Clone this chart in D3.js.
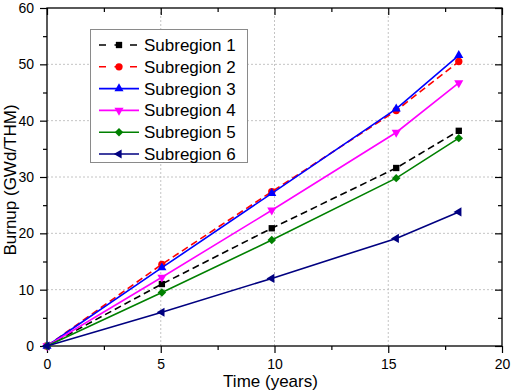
<!DOCTYPE html>
<html>
<head>
<meta charset="utf-8">
<script src="https://cdn.jsdelivr.net/npm/d3@7"></script>
<style>
  body { margin: 0; background: #fff; }
  svg { display: block; font-family: "Liberation Sans", Arial, sans-serif; }
</style>
</head>
<body>
<div id="chart"></div>
<script>
// data
const times = [0, 5.05, 9.88, 15.35, 18.1];
const sub1 = [0, 11.0, 20.9, 31.6, 38.2];
const sub2 = [0, 14.5, 27.4, 41.8, 50.5];
const sub3 = [0, 13.9, 27.1, 42.1, 51.6];
const sub4 = [0, 12.2, 24.1, 37.9, 46.7];
const sub5 = [0, 9.5, 18.8, 29.8, 36.9];
const sub6 = [0, 6.0, 12.0, 19.1, 23.8];
const xTicks = [0, 5, 10, 15, 20];
const yTicks = [0, 10, 20, 30, 40, 50, 60];

const series = [
  { name: 'Subregion 1', values: sub1, color: '#000000', dash: '7,4', shape: 'square' },
  { name: 'Subregion 2', values: sub2, color: '#ff0000', dash: '7,4', shape: 'circle' },
  { name: 'Subregion 3', values: sub3, color: '#0000ff', dash: null, shape: 'up' },
  { name: 'Subregion 4', values: sub4, color: '#ff00ff', dash: null, shape: 'down' },
  { name: 'Subregion 5', values: sub5, color: '#008000', dash: null, shape: 'diamond' },
  { name: 'Subregion 6', values: sub6, color: '#000080', dash: null, shape: 'left' }
];

const width = 512, height = 390;
const pLeft = 47, pRight = 502, pTop = 8, pBottom = 346;

const svg = d3.select('#chart').append('svg')
  .attr('width', width)
  .attr('height', height);

const x = d3.scaleLinear().domain([0, 20]).range([pLeft, pRight]);
const y = d3.scaleLinear().domain([0, 60]).range([pBottom, pTop]);

// GRID
const grid = svg.append('g')
  .attr('stroke', '#c4c4c4')
  .attr('stroke-width', 1)
  .attr('stroke-dasharray', '2,2');
grid.selectAll('.gx').data(xTicks.slice(1, -1)).join('line')
  .attr('x1', d => x(d)).attr('x2', d => x(d))
  .attr('y1', pTop).attr('y2', pBottom);
grid.selectAll('.gy').data(yTicks.slice(1, -1)).join('line')
  .attr('x1', pLeft).attr('x2', pRight)
  .attr('y1', d => y(d)).attr('y2', d => y(d));

// AXES
const minorX = d3.range(0, 20.01, 2.5).filter(v => v % 5 !== 0);
const minorY = d3.range(0, 60.01, 5).filter(v => v % 10 !== 0);

function styleAxis(g) {
  g.select('.domain').remove();
  g.selectAll('line').attr('stroke', '#000').attr('stroke-width', 1.2);
  g.selectAll('text')
    .attr('fill', '#000')
    .style('font-size', '14px')
    .style('font-family', '"Liberation Sans", Arial, sans-serif');
}

svg.append('g').attr('transform', `translate(0,${pBottom})`)
  .call(d3.axisBottom(x).tickValues(xTicks).tickSize(7).tickPadding(6))
  .call(styleAxis);
svg.append('g').attr('transform', `translate(0,${pBottom})`)
  .call(d3.axisBottom(x).tickValues(minorX).tickSize(4).tickFormat(''))
  .call(styleAxis);
svg.append('g').attr('transform', `translate(${pLeft},0)`)
  .call(d3.axisLeft(y).tickValues(yTicks).tickSize(7).tickPadding(6))
  .call(styleAxis);
svg.append('g').attr('transform', `translate(${pLeft},0)`)
  .call(d3.axisLeft(y).tickValues(minorY).tickSize(4).tickFormat(''))
  .call(styleAxis);
// mirrored inward ticks on top and right
svg.append('g').attr('transform', `translate(0,${pTop})`)
  .call(d3.axisTop(x).tickValues(xTicks).tickSize(-7).tickFormat(''))
  .call(styleAxis);
svg.append('g').attr('transform', `translate(0,${pTop})`)
  .call(d3.axisTop(x).tickValues(minorX).tickSize(-4).tickFormat(''))
  .call(styleAxis);
svg.append('g').attr('transform', `translate(${pRight},0)`)
  .call(d3.axisRight(y).tickValues(yTicks).tickSize(-7).tickFormat(''))
  .call(styleAxis);
svg.append('g').attr('transform', `translate(${pRight},0)`)
  .call(d3.axisRight(y).tickValues(minorY).tickSize(-4).tickFormat(''))
  .call(styleAxis);

svg.append('rect')
  .attr('x', pLeft).attr('y', pTop)
  .attr('width', pRight - pLeft).attr('height', pBottom - pTop)
  .attr('fill', 'none').attr('stroke', '#000').attr('stroke-width', 1.3);

// axis titles
svg.append('text')
  .attr('x', (pLeft + pRight) / 2 - 4)
  .attr('y', 386.5)
  .attr('text-anchor', 'middle')
  .style('font-size', '17px')
  .text('Time (years)');

svg.append('text')
  .attr('transform', `translate(16,${(pTop + pBottom) / 2 + 3}) rotate(-90)`)
  .attr('text-anchor', 'middle')
  .style('font-size', '17px')
  .text('Burnup (GWd/THM)');

// MARKERS
function marker(shape) {
  const tri = d3.symbol().type(d3.symbolTriangle).size(36)();
  switch (shape) {
    case 'square': return { d: d3.symbol().type(d3.symbolSquare).size(40)(), rot: 0 };
    case 'circle': return { d: d3.symbol().type(d3.symbolCircle).size(42)(), rot: 0 };
    case 'up': return { d: tri, rot: 0 };
    case 'down': return { d: tri, rot: 180 };
    case 'left': return { d: tri, rot: -90 };
    case 'diamond': return { d: d3.symbol().type(d3.symbolSquare).size(36)(), rot: 45 };
  }
}

const line = d3.line()
  .x((d, i) => x(times[i]))
  .y(d => y(d));

series.forEach(s => {
  const g = svg.append('g');
  g.append('path')
    .datum(s.values)
    .attr('fill', 'none')
    .attr('stroke', s.color)
    .attr('stroke-width', 1.6)
    .attr('stroke-dasharray', s.dash)
    .attr('d', line);
  const m = marker(s.shape);
  g.selectAll('path.pt').data(s.values).join('path')
    .attr('class', 'pt')
    .attr('d', m.d)
    .attr('fill', s.color)
    .attr('transform', (d, i) => `translate(${x(times[i])},${y(d)}) rotate(${m.rot})`);
});

// LEGEND
const legend = svg.append('g');
legend.append('rect')
  .attr('x', 90.5).attr('y', 29.5)
  .attr('width', 157).attr('height', 133)
  .attr('fill', '#fff')
  .attr('stroke', '#8a8a8a')
  .attr('stroke-width', 1);

series.forEach((s, i) => {
  const ly = 45 + i * 21.8;
  const item = legend.append('g');
  item.append('line')
    .attr('x1', 99).attr('x2', 139)
    .attr('y1', ly).attr('y2', ly)
    .attr('stroke', s.color)
    .attr('stroke-width', 1.6)
    .attr('stroke-dasharray', s.dash ? '7,8.5' : null);
  const m = marker(s.shape);
  item.append('path')
    .attr('d', m.d)
    .attr('fill', s.color)
    .attr('transform', `translate(119,${ly}) rotate(${m.rot})`);
  item.append('text')
    .attr('x', 144)
    .attr('y', ly + 6)
    .style('font-size', '17px')
    .text(s.name);
});
</script>
</body>
</html>
